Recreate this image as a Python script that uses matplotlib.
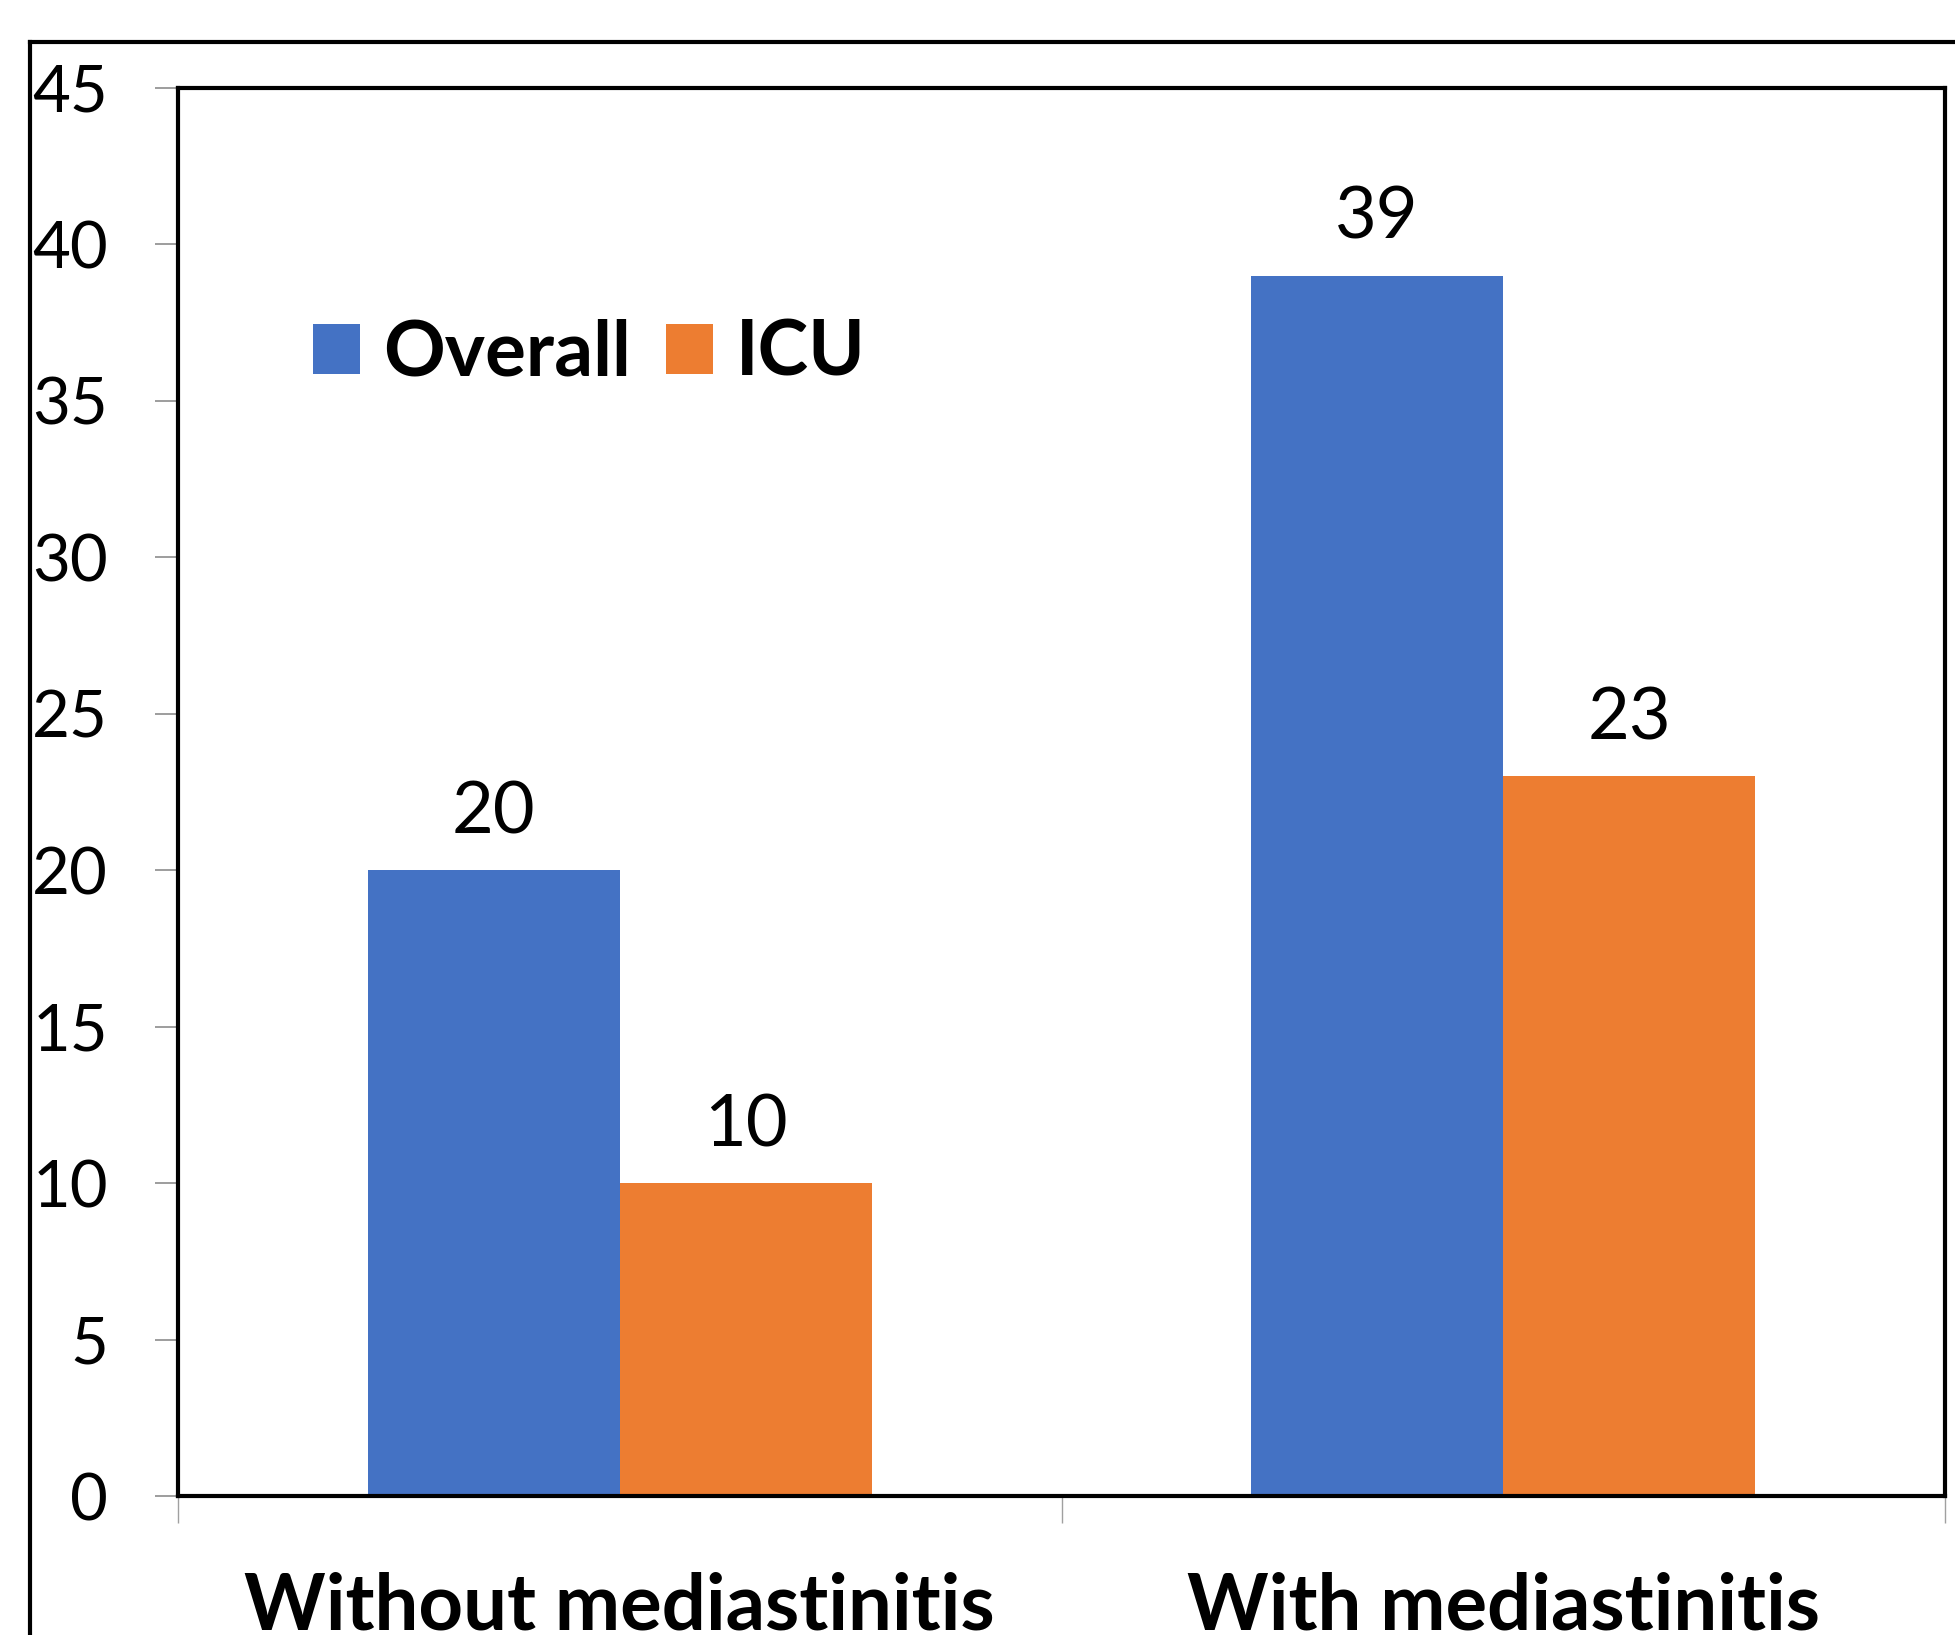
import matplotlib
matplotlib.use("Agg")
import matplotlib.pyplot as plt
from matplotlib.lines import Line2D
from matplotlib.patches import Patch
import numpy as np

categories = ["Without mediastinitis", "With mediastinitis"]
series_names = ["Overall", "ICU"]
overall = [20, 39]
icu = [10, 23]
y_ticks = [0, 5, 10, 15, 20, 25, 30, 35, 40, 45]

blue = "#4472C4"
orange = "#ED7D31"
font = "Lato"

fig = plt.figure(figsize=(19.55, 16.35), dpi=100)
ax = fig.add_axes([178 / 1955, 1 - 1496 / 1635, (1945 - 178) / 1955, (1496 - 88) / 1635])

x = np.arange(len(categories))
w = 0.2855
b1 = ax.bar(x - w / 2, overall, w, color=blue, label=series_names[0], zorder=2)
b2 = ax.bar(x + w / 2, icu, w, color=orange, label=series_names[1], zorder=2)

for bars in (b1, b2):
    ax.bar_label(bars, padding=18, fontsize=52, fontfamily=font, color="black")

ax.set_xlim(-0.5, 1.5)
ax.set_ylim(0, 45)
ax.set_yticks(y_ticks)
ax.set_yticklabels([str(v) for v in y_ticks], fontsize=47, fontfamily=font)
ax.tick_params(axis="y", length=16.5, width=1.2, color="#8c8c8c", pad=34)

ax.set_xticks(x)
ax.set_xticklabels(categories, fontsize=56, fontweight="bold", fontfamily=font)
ax.set_xticks([-0.5, 0.5, 1.5], minor=True)
ax.tick_params(axis="x", which="major", length=0, pad=54)
ax.tick_params(axis="x", which="minor", length=19.5, width=1.0, color="#a0a0a0")

for s in ax.spines.values():
    s.set_color("black")
    s.set_linewidth(3)

handles = [Patch(facecolor=blue, edgecolor="none"), Patch(facecolor=orange, edgecolor="none")]
ax.legend(handles, series_names, loc="upper left", bbox_to_anchor=(0.0764, 0.836),
          frameon=False, ncol=2, borderpad=0, borderaxespad=0,
          handlelength=0.62, handleheight=0.62, handletextpad=0.3, columnspacing=0.45,
          prop={"family": font, "weight": "bold", "size": 55})

# outer frame around the chart area
fig.add_artist(Line2D([30 / 1955, 30 / 1955], [0, 1 - 42 / 1635], color="black", lw=3,
                      transform=fig.transFigure, solid_capstyle="projecting"))
fig.add_artist(Line2D([30 / 1955, 1], [1 - 42 / 1635, 1 - 42 / 1635], color="black", lw=3,
                      transform=fig.transFigure, solid_capstyle="projecting"))

fig.savefig("out.png", dpi=100)
